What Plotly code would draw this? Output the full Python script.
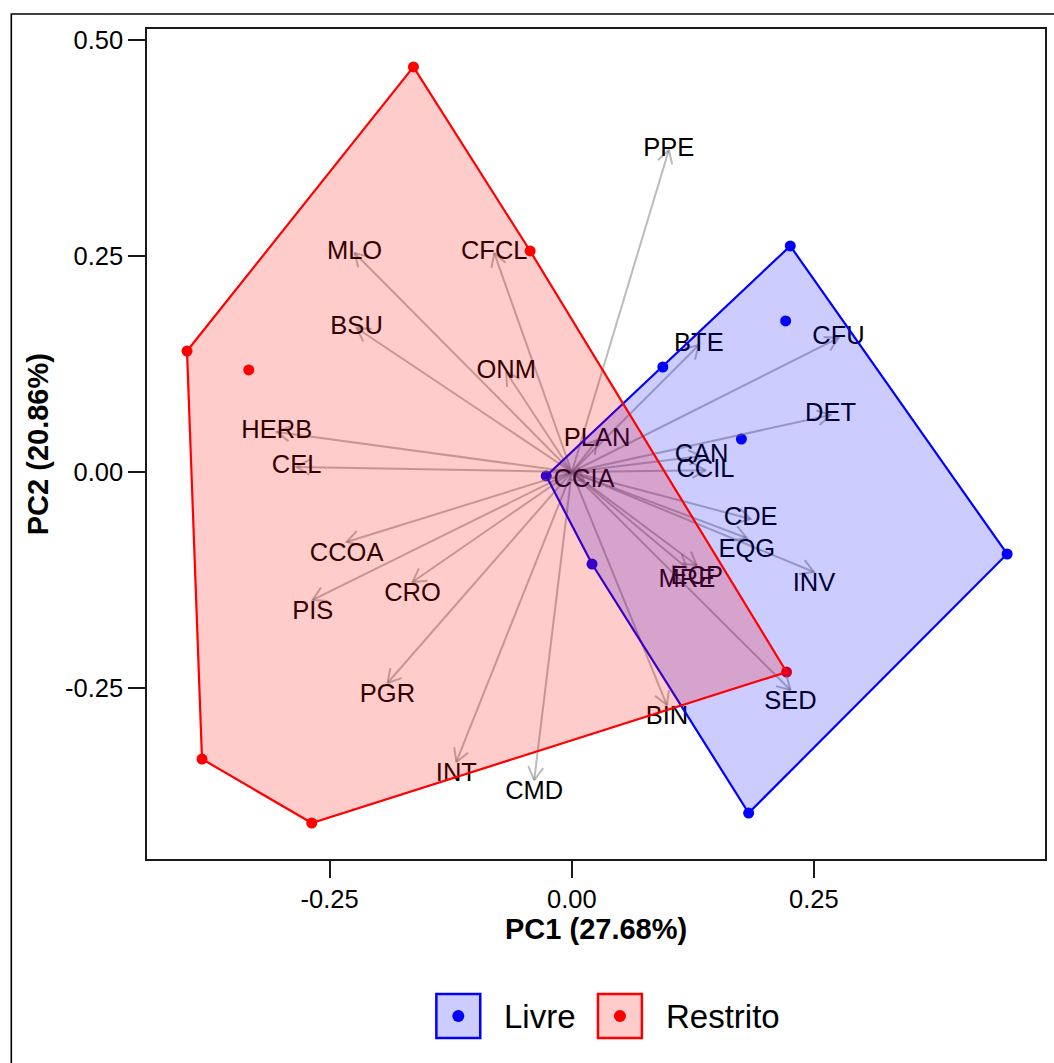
import math
import plotly.graph_objects as go

# ---- data -------------------------------------------------------------
# Site scores on the first two principal components, by access group
livre_pc1 = [0.2256, 0.2208, 0.0940, 0.1751, 0.4495, 0.1826, 0.0209, -0.0264]
livre_pc2 = [0.2616, 0.1748, 0.1215, 0.0382, -0.0949, -0.3947, -0.1065, -0.0046]

restrito_pc1 = [-0.1635, -0.0430, -0.3973, -0.3335, -0.3818, -0.2685, 0.2218]
restrito_pc2 = [0.4688, 0.2558, 0.1400, 0.1181, -0.3322, -0.4063, -0.2315]

# Variable loadings (arrow tips)
variables = ["PPE", "MLO", "CFCL", "BSU", "ONM", "BTE", "CFU", "DET", "HERB",
             "CEL", "PLAN", "CAN", "CCIL", "CCIA", "CDE", "EQG", "INV", "MRE",
             "ECP", "BIN", "SED", "CCOA", "PIS", "CRO", "PGR", "INT", "CMD"]
load_pc1 = [0.1002, -0.2243, -0.0801, -0.2222, -0.0677, 0.1312, 0.2754, 0.2672,
            -0.3046, -0.2841, 0.0261, 0.1340, 0.1380, 0.0127, 0.1847, 0.1807,
            0.2500, 0.1188, 0.1291, 0.0982, 0.2258, -0.2325, -0.2675, -0.1645,
            -0.1903, -0.1192, -0.0388]
load_pc2 = [0.3727, 0.2535, 0.2535, 0.1667, 0.1157, 0.1470, 0.1551, 0.0660,
            0.0463, 0.0058, 0.0370, 0.0185, 0.0020, -0.0104, -0.0544, -0.0764,
            -0.1157, -0.1111, -0.1080, -0.2697, -0.2523, -0.0810, -0.1481,
            -0.1273, -0.2442, -0.3356, -0.3565]

x_title = "PC1 (27.68%)"
y_title = "PC2 (20.86%)"
x_tickvals = [-0.25, 0.0, 0.25]
x_ticktext = ["-0.25", "0.00", "0.25"]
y_tickvals = [-0.25, 0.0, 0.25, 0.50]
y_ticktext = ["-0.25", "0.00", "0.25", "0.50"]
groups = ["Livre", "Restrito"]

# ---- layout geometry --------------------------------------------------
W, H = 1054, 1063
ML, MR, MT, MB = 147, 7, 29, 204
x_range = [-0.4386, 0.4886]
y_range = [-0.4479, 0.5127]
PW, PH = W - ML - MR, H - MT - MB
kx = PW / (x_range[1] - x_range[0])   # px per unit
ky = PH / (y_range[1] - y_range[0])

FONT = "Liberation Sans, Arial, Helvetica, sans-serif"
BLUE, RED = "#0000FF", "#FF0000"
BLUE_FILL, RED_FILL = "rgba(0,0,255,0.2)", "rgba(255,0,0,0.2)"


def to_paper(px, py):
    """pixel position in the page -> paper coordinates"""
    return (px - ML) / PW, (H - MB - py) / PH


def convex_hull(xs, ys):
    pts = sorted(set(zip(xs, ys)))

    def cross(o, a, b):
        return (a[0] - o[0]) * (b[1] - o[1]) - (a[1] - o[1]) * (b[0] - o[0])

    lower, upper = [], []
    for p in pts:
        while len(lower) >= 2 and cross(lower[-2], lower[-1], p) <= 0:
            lower.pop()
        lower.append(p)
    for p in reversed(pts):
        while len(upper) >= 2 and cross(upper[-2], upper[-1], p) <= 0:
            upper.pop()
        upper.append(p)
    hull = lower[:-1] + upper[:-1]
    hull.append(hull[0])
    return [p[0] for p in hull], [p[1] for p in hull]


fig = go.Figure()

# individuals
fig.add_trace(go.Scatter(x=livre_pc1, y=livre_pc2, mode="markers",
                         marker=dict(color=BLUE, size=11), showlegend=False,
                         hoverinfo="skip"))
fig.add_trace(go.Scatter(x=restrito_pc1, y=restrito_pc2, mode="markers",
                         marker=dict(color=RED, size=11), showlegend=False,
                         hoverinfo="skip"))

# variable arrows with open heads
ax, ay = [], []
head_len, head_ang = 15.0, math.radians(30)
for vx, vy in zip(load_pc1, load_pc2):
    ax += [0, vx, None]
    ay += [0, vy, None]
    a = math.atan2(vy * ky, vx * kx)
    bx, by = [], []
    for s in (1, -1):
        bx.append(vx - head_len * math.cos(a + s * head_ang) / kx)
        by.append(vy - head_len * math.sin(a + s * head_ang) / ky)
    ax += [bx[0], vx, bx[1], None]
    ay += [by[0], vy, by[1], None]
fig.add_trace(go.Scatter(x=ax, y=ay, mode="lines",
                         line=dict(color="rgba(120,120,120,0.5)", width=2),
                         showlegend=False, hoverinfo="skip"))

# variable labels
positions = ["bottom center" if v < -0.06 else "middle center" for v in load_pc2]
fig.add_trace(go.Scatter(x=load_pc1, y=load_pc2, mode="text", text=variables,
                         textposition=positions,
                         textfont=dict(family=FONT, size=25.5, color="black"),
                         showlegend=False, hoverinfo="skip"))

# group hulls
for gx, gy, lc, fc in ((livre_pc1, livre_pc2, BLUE, BLUE_FILL),
                       (restrito_pc1, restrito_pc2, RED, RED_FILL)):
    hx, hy = convex_hull(gx, gy)
    fig.add_trace(go.Scatter(x=hx, y=hy, mode="lines", fill="toself",
                             fillcolor=fc, line=dict(color=lc, width=2.2),
                             showlegend=False, hoverinfo="skip"))

axis_common = dict(showgrid=False, zeroline=False, showline=True, mirror=True,
                   linecolor="#1a1a1a", linewidth=1.6, ticks="outside",
                   ticklen=17, tickwidth=2, tickcolor="#1a1a1a",
                   tickfont=dict(family=FONT, size=25.5, color="black"))
fig.update_xaxes(range=x_range, tickvals=x_tickvals, ticktext=x_ticktext,
                 **axis_common)
fig.update_yaxes(range=y_range, tickvals=y_tickvals, ticktext=y_ticktext,
                 **axis_common)

annotations = []
shapes = []

# axis titles
tx, ty = to_paper((ML + W - MR) / 2, 929)
annotations.append(dict(x=tx, y=ty, xref="paper", yref="paper", text=f"<b>{x_title}</b>",
                        showarrow=False, xanchor="center", yanchor="middle",
                        font=dict(family=FONT, size=29, color="black")))
tx, ty = to_paper(38, (MT + H - MB) / 2)
annotations.append(dict(x=tx, y=ty, xref="paper", yref="paper", text=f"<b>{y_title}</b>",
                        showarrow=False, textangle=-90, xanchor="center", yanchor="middle",
                        font=dict(family=FONT, size=29, color="black")))

# outer frame
x0, y0 = to_paper(11, 14)
x1, y1 = to_paper(1070, 1080)
shapes.append(dict(type="rect", xref="paper", yref="paper", x0=x0, y0=y1, x1=x1, y1=y0,
                   line=dict(color="black", width=1.6), fillcolor="rgba(0,0,0,0)",
                   layer="below"))

# legend
legend_items = [(groups[0], BLUE, BLUE_FILL, 437), (groups[1], RED, RED_FILL, 599)]
for name, lc, fc, left in legend_items:
    bx0, by0 = to_paper(left, 994)
    bx1, by1 = to_paper(left + 44, 1038)
    shapes.append(dict(type="rect", xref="paper", yref="paper", x0=bx0, y0=by1,
                       x1=bx1, y1=by0, line=dict(color=lc, width=2.5), fillcolor=fc))
    cx0, cy0 = to_paper(left + 16, 1010)
    cx1, cy1 = to_paper(left + 28, 1022)
    shapes.append(dict(type="circle", xref="paper", yref="paper", x0=cx0, y0=cy1,
                       x1=cx1, y1=cy0, line=dict(color=lc, width=0), fillcolor=lc))
    lx, ly = to_paper(left + 66, 1016)
    annotations.append(dict(x=lx, y=ly, xref="paper", yref="paper", text=name,
                            showarrow=False, xanchor="left", yanchor="middle",
                            font=dict(family=FONT, size=33, color="black")))

fig.update_layout(width=W, height=H,
                  margin=dict(l=ML, r=MR, t=MT, b=MB, pad=0),
                  paper_bgcolor="white", plot_bgcolor="white",
                  showlegend=False, annotations=annotations, shapes=shapes)

fig.write_html("out.html")
